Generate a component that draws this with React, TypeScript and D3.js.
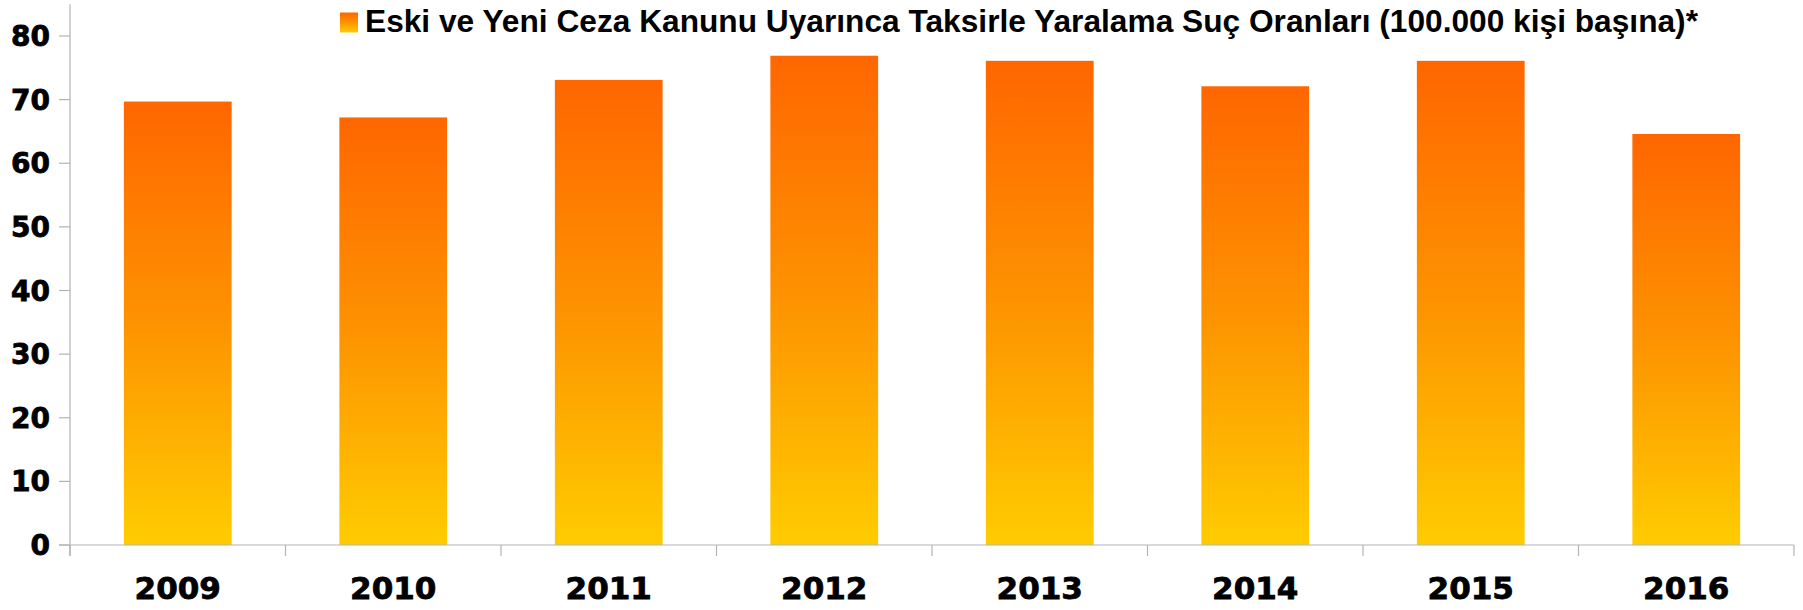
import React, { useEffect, useRef } from 'react';
import * as d3 from 'd3';

const years = ['2009', '2010', '2011', '2012', '2013', '2014', '2015', '2016'];
const rates = [69.7, 67.2, 73.1, 76.9, 76.1, 72.1, 76.1, 64.6];
const yTicks = [0, 10, 20, 30, 40, 50, 60, 70, 80];
const legendLabel = 'Eski ve Yeni Ceza Kanunu Uyarınca Taksirle Yaralama Suç Oranları (100.000 kişi başına)*';

const W = 1803;
const H = 610;

const App = () => {
  const ref = useRef<SVGSVGElement>(null);

  useEffect(() => {
    const svg = d3.select(ref.current);
    svg.selectAll('*').remove();

    const left = 70;
    const right = 1794;
    const top = 4.2;
    const bottom = 545;

    const defs = svg.append('defs');
    const grad = defs
      .append('linearGradient')
      .attr('id', 'barGrad')
      .attr('x1', 0)
      .attr('y1', 0)
      .attr('x2', 0)
      .attr('y2', 1);
    grad.append('stop').attr('offset', '0%').attr('stop-color', '#ff6600');
    grad.append('stop').attr('offset', '50%').attr('stop-color', '#fd9300');
    grad.append('stop').attr('offset', '100%').attr('stop-color', '#ffcc00');

    const x = d3.scaleBand().domain(years).range([left, right]).paddingInner(0.5).paddingOuter(0.25);
    const y = d3.scaleLinear().domain([0, 85]).range([bottom, top]);

    // bars
    svg
      .append('g')
      .selectAll('rect')
      .data(years)
      .enter()
      .append('rect')
      .attr('x', (d) => x(d)!)
      .attr('y', (_, i) => y(rates[i]))
      .attr('width', x.bandwidth())
      .attr('height', (_, i) => bottom - y(rates[i]))
      .attr('fill', 'url(#barGrad)');

    // y axis
    const yAxis = svg.append('g').attr('transform', `translate(${left},0)`);
    yAxis
      .append('line')
      .attr('x1', 0)
      .attr('x2', 0)
      .attr('y1', top)
      .attr('y2', bottom + 11)
      .attr('stroke', '#b3b3b3')
      .attr('stroke-width', 1.2);
    const yt = yAxis.selectAll('g.tick').data(yTicks).enter().append('g').attr('class', 'tick');
    yt.append('line')
      .attr('x1', -11)
      .attr('x2', 0)
      .attr('y1', (d) => y(d))
      .attr('y2', (d) => y(d))
      .attr('stroke', '#b3b3b3')
      .attr('stroke-width', 1.2);
    yt.append('text')
      .attr('x', -20)
      .attr('y', (d) => y(d))
      .attr('dy', '0.36em')
      .attr('text-anchor', 'end')
      .attr('font-family', 'DejaVu Sans')
      .attr('font-weight', 'bold')
      .attr('font-size', 28)
      .attr('fill', '#000')
      .attr('stroke', '#000')
      .attr('stroke-width', 0.8)
      .text((d) => d);

    // x axis
    const xAxis = svg.append('g');
    xAxis
      .append('line')
      .attr('x1', left - 11)
      .attr('x2', right)
      .attr('y1', bottom)
      .attr('y2', bottom)
      .attr('stroke', '#b3b3b3')
      .attr('stroke-width', 1.2);
    const edges = d3.range(years.length + 1).map((i) => left + (i * (right - left)) / years.length);
    xAxis
      .selectAll('line.tick')
      .data(edges)
      .enter()
      .append('line')
      .attr('class', 'tick')
      .attr('x1', (d) => d)
      .attr('x2', (d) => d)
      .attr('y1', bottom)
      .attr('y2', bottom + 11)
      .attr('stroke', '#b3b3b3')
      .attr('stroke-width', 1.2);
    xAxis
      .selectAll('text')
      .data(years)
      .enter()
      .append('text')
      .attr('x', (d) => x(d)! + x.bandwidth() / 2)
      .attr('y', 599)
      .attr('text-anchor', 'middle')
      .attr('font-family', 'DejaVu Sans')
      .attr('font-weight', 'bold')
      .attr('font-size', 31)
      .attr('fill', '#000')
      .attr('stroke', '#000')
      .attr('stroke-width', 0.8)
      .text((d) => d);

    // legend
    svg
      .append('rect')
      .attr('x', 340)
      .attr('y', 12.5)
      .attr('width', 18)
      .attr('height', 20)
      .attr('fill', 'url(#barGrad)');
    svg
      .append('text')
      .attr('x', 365)
      .attr('y', 32)
      .attr('font-family', "'Liberation Sans Narrow', 'Liberation Sans', Arial, sans-serif")
      .attr('font-weight', 'bold')
      .attr('font-size', 31)
      .attr('textLength', 1333)
      .attr('lengthAdjust', 'spacingAndGlyphs')
      .attr('fill', '#000')
      .text(legendLabel);
  }, []);

  return (
    <svg
      ref={ref}
      width={W}
      height={H}
      style={{ position: 'absolute', left: 0, top: 0, display: 'block', background: '#fff' }}
    />
  );
};

export default App;
